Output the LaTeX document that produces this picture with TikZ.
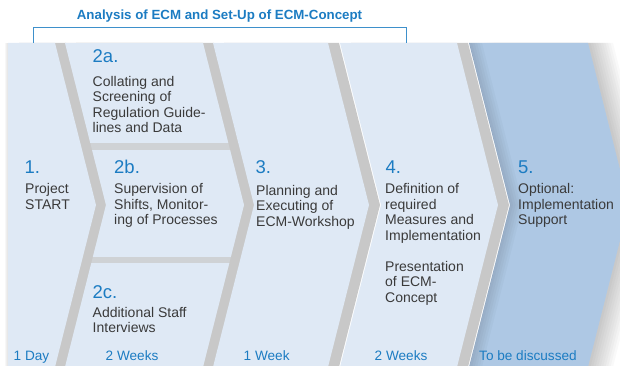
\documentclass[tikz,border=0pt]{standalone}
\usepackage{fontspec}
\setmainfont{Liberation Sans}
\usetikzlibrary{positioning}

\definecolor{chevlight}{RGB}{223,233,245}
\definecolor{chevdark}{RGB}{174,200,228}
\definecolor{gapgray}{RGB}{200,200,200}
\definecolor{ecmblue}{RGB}{28,124,194}
\definecolor{txtgray}{RGB}{58,58,58}

% chevron outline: left top x, right top x
\newcommand{\chevpath}[2]{(#1,43) -- (#2,43) -- (#2+41,205) -- (#2,367) -- (#1,367) -- (#1+41,205) -- cycle}

\begin{document}
\begin{tikzpicture}[x=1pt, y=-1pt,
    chev/.style={fill=chevlight},
    chevopt/.style={fill=chevdark},
    gapshade/.style={fill=gapgray},
    softshade/.style={fill=black, opacity=0.025},
    num/.style={anchor=base west, inner sep=0pt, text=ecmblue,
                font=\fontsize{18.5}{20}\selectfont},
    txt/.style={anchor=north west, inner sep=0pt, align=left, text=txtgray,
                font=\fontsize{14}{15.5}\selectfont},
    dur/.style={anchor=base west, inner sep=0pt, text=ecmblue,
                font=\fontsize{13.6}{15}\selectfont},
    bracket/.style={draw=ecmblue!85, line width=1pt}
  ]
  \useasboundingbox (0,0) rectangle (620,366);
  \clip (0,0) rectangle (620,366);

  % Shadows
  \foreach \i in {1,...,3}
    \fill[black, opacity=0.03] (8-\i,43) rectangle (20,367);
  \begin{scope}[xshift=11pt]
    \fill[gapshade] (8,43) -- (55,43) -- (96,205) -- (55,367) -- (8,367) -- cycle;
    \fill[gapshade] \chevpath{65}{203};
    \fill[gapshade] \chevpath{213}{328};
    \fill[gapshade] \chevpath{340}{457};
  \end{scope}
  \foreach \i in {1,...,10}
    \fill[softshade, xshift=2.5*\i pt] \chevpath{469}{588};

  % Chevrons
  \fill[chev] (8,43) -- (55,43) -- (96,205) -- (55,367) -- (8,367) -- cycle;
  \fill[gapgray!70!chevlight] \chevpath{65}{203};
  \begin{scope}
    \clip \chevpath{65}{203};
    \fill[chev] (60,43) rectangle (260,143);
    \fill[chev] (60,150) rectangle (260,257);
    \fill[chev] (60,263) rectangle (260,367);
  \end{scope}
  \fill[chev] \chevpath{213}{328};
  \fill[chev] \chevpath{340}{457};
  \fill[chevopt] \chevpath{469}{588};
  \begin{scope}
    \clip \chevpath{469}{588};
    \foreach \i in {1,...,6}
      \fill[softshade, xshift=(10+2.5*\i)*1pt] \chevpath{340}{457};
  \end{scope}

  % Title and bracket
  \node[anchor=base, inner sep=0pt, text=ecmblue, font=\fontsize{13.3}{15}\selectfont\bfseries]
    (title) at (219.5,20) {Analysis of ECM and Set-Up of ECM-Concept};
  \coordinate (brL) at (33,43);
  \coordinate (brR) at (406,43);
  \draw[bracket] (brL) -- ++(0,-15) -| (brR);

  % Steps
  \node[num] (n1) at (24.5,173) {1.};
  \node[txt] (t1) at (25,183.3) {Project\\START};

  \node[num] (n2a) at (92.5,63) {2a.};
  \node[txt] (t2a) at (92.5,76) {Collating and\\Screening of\\Regulation Guide-\\lines and Data};

  \node[num] (n2b) at (114,173) {2b.};
  \node[txt] (t2b) at (114,183.3) {Supervision of\\Shifts, Monitor-\\ing of Processes};

  \node[num] (n2c) at (92.5,298) {2c.};
  \node[txt] (t2c) at (92.5,306.7) {Additional Staff\\Interviews};

  \node[num] (n3) at (255.5,173) {3.};
  \node[txt] (t3) at (256,185) {Planning and\\Executing of\\ECM-Workshop};

  \node[num] (n4) at (385.5,173) {4.};
  \node[txt] (t4) at (385,183.3) {Definition of\\required\\Measures and\\Implementation\\[15.5pt]Presentation\\of ECM-\\Concept};

  \node[num] (n5) at (518,173) {5.};
  \node[txt] (t5) at (518,183.3) {Optional:\\Implementation\\Support};

  % Durations
  \node[dur] (d1) at (13.5,360.7) {1 Day};
  \node[dur] (d2) at (105.5,360.7) {2 Weeks};
  \node[dur] (d3) at (243.5,360.7) {1 Week};
  \node[dur] (d4) at (374.5,360.7) {2 Weeks};
  \node[dur] (d5) at (479,360.7) {To be discussed};

\end{tikzpicture}
\end{document}
